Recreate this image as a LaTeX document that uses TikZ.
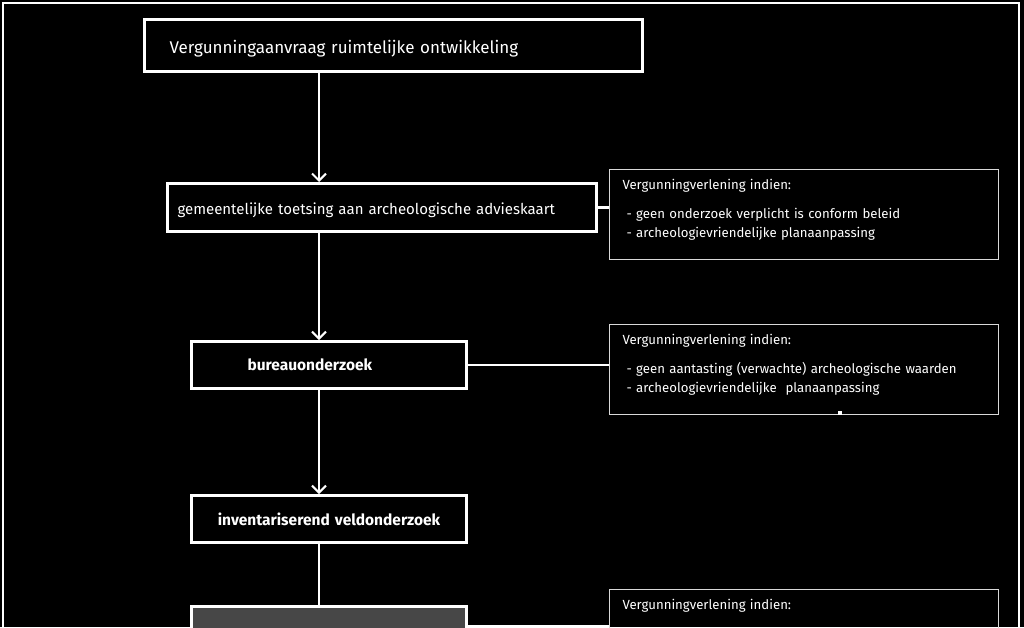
\documentclass[tikz,border=0pt]{standalone}
\usepackage{fontspec}
\setmainfont{Fira Sans}
\usetikzlibrary{arrows.meta}

\begin{document}
\begin{tikzpicture}[
    x=1pt,
    y=-1pt,
    stap/.style={
      draw=white,
      line width=3pt,
      fill=black,
      text=white,
      anchor=north west,
      align=left,
      inner ysep=0,
      font=\fontsize{15}{18}\selectfont,
    },
    advies/.style={
      draw=white!85!black,
      line width=1pt,
      text=white,
      anchor=north west,
      align=left,
      inner xsep=13,
      inner ysep=5,
      text width=363,
      text height=15,
      text depth=65,
      font=\fontsize{13.2}{19}\selectfont,
    },
    pijl/.style={
      draw=white,
      line width=2.5pt,
      -{Straight Barb[length=7pt,width=14pt,line width=2pt]},
    },
    lijn/.style={
      draw=white,
      line width=2.5pt,
    },
  ]
    \newcommand\voorwaarde[1]{\hspace{4pt}- #1}

    % achtergrond en kader
    \fill[black] (0,0) rectangle (1024,627);
    \useasboundingbox (0,0) rectangle (1024,627);
    \draw[white, line width=2pt] (3,640) -- (3,3) -- (1019,3) -- (1019,640);

    % stappen
    \node[stap, minimum width=498, minimum height=52, text width=448, inner xsep=25, font=\fontsize{17}{20}\selectfont]
      (aanvraag) at (143,18) {\rule{0pt}{20pt}Vergunningaanvraag ruimtelijke ontwikkeling};
    \node[stap, minimum width=429, minimum height=48, text width=409, inner xsep=10]
      (toetsing) at (166,182) {\rule{0pt}{17pt}gemeentelijke toetsing aan archeologische advieskaart};
    \node[stap, minimum width=275, minimum height=47, text width=163, inner xsep=56, font=\fontsize{15.5}{18}\selectfont\bfseries]
      (bureau) at (190,340) {bureauonderzoek};
    \node[stap, minimum width=275, minimum height=47, text width=255, inner xsep=10, align=center, font=\fontsize{15.5}{18}\selectfont\bfseries]
      (veld) at (190,494) {inventariserend veldonderzoek};
    \node[stap, fill=black!72, minimum width=275, minimum height=40, text width=255, inner xsep=10]
      (waardering) at (190,605) {};

    % vergunningverlening
    \node[advies] (advies1) at (609,169)
    {Vergunningverlening indien:\\[10pt]
     \voorwaarde{geen onderzoek verplicht is conform beleid}\\
     \voorwaarde{archeologievriendelijke planaanpassing}};
    \node[advies] (advies2) at (609,324)
    {Vergunningverlening indien:\\[10pt]
     \voorwaarde{geen aantasting (verwachte) archeologische waarden}\\
     \voorwaarde{archeologievriendelijke\ \ planaanpassing}};
    \node[advies] (advies3) at (609,589)
    {Vergunningverlening indien:};
    \fill[white] (838,411) rectangle (842,415);

    % verbindingen
    \coordinate (as) at (319,0);
    \draw[pijl] (aanvraag.south -| as) -- (toetsing.north -| as);
    \draw[pijl] (toetsing.south -| as) -- (bureau.north -| as);
    \draw[pijl] (bureau.south -| as) -- (veld.north -| as);
    \draw[lijn] (veld.south -| as) -- (waardering.north -| as);

    \draw[lijn] (toetsing.east) -- (toetsing.east -| advies1.west);
    \draw[lijn] (bureau.east) -- (bureau.east -| advies2.west);
    \draw[lijn] (waardering.east) -- (waardering.east -| advies3.west);
\end{tikzpicture}
\end{document}
